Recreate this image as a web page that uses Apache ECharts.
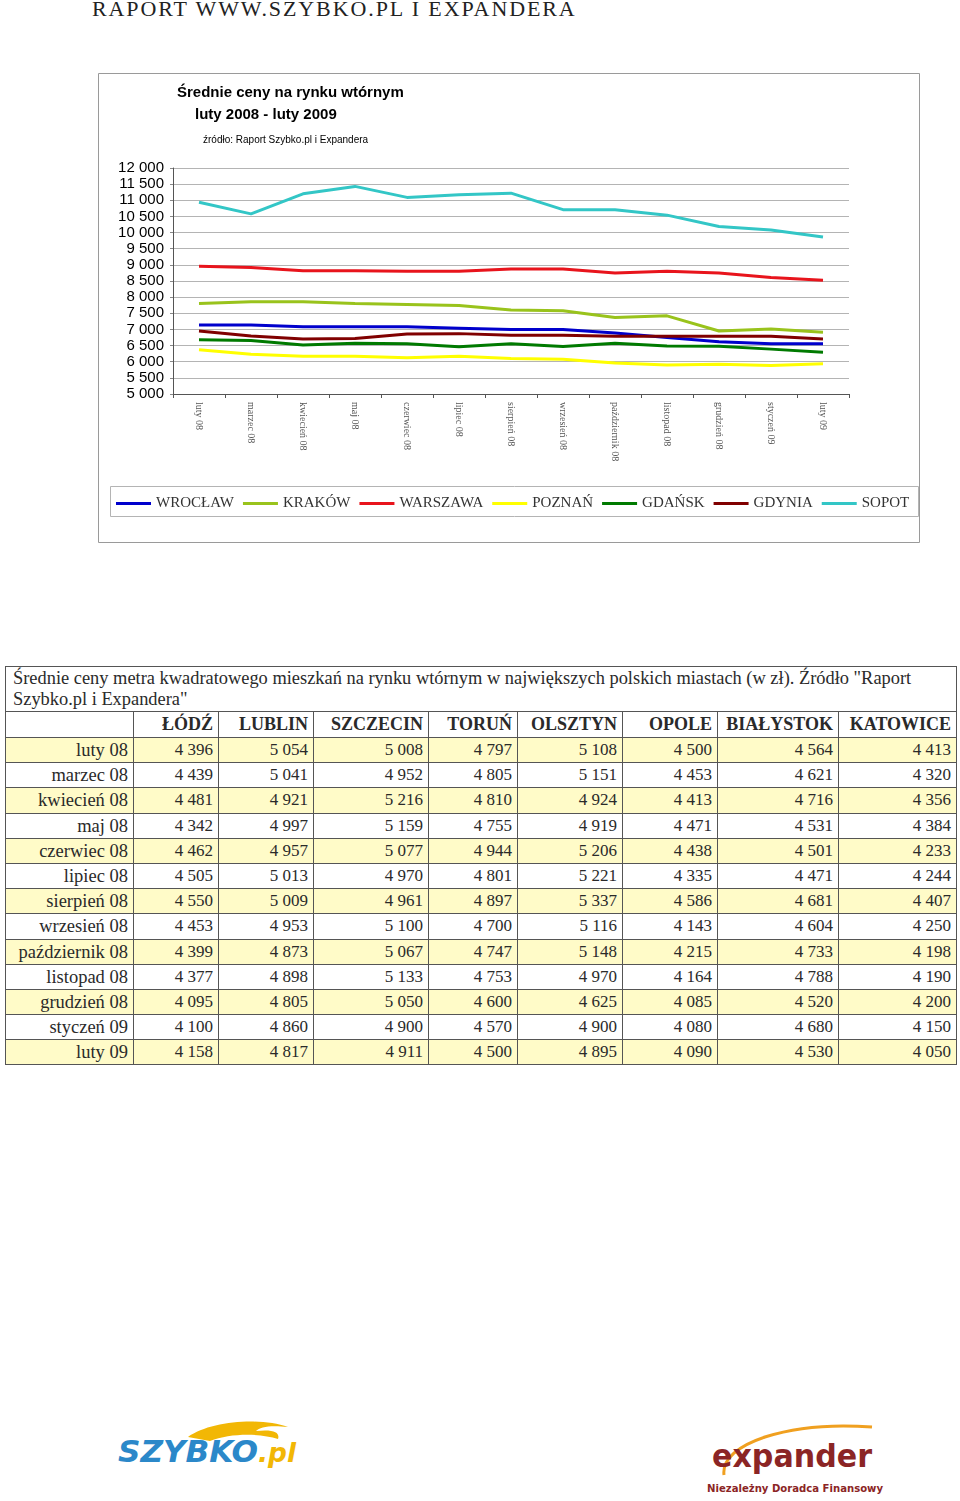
<!DOCTYPE html>
<html>
<head>
<meta charset="utf-8">
<script src="https://cdn.jsdelivr.net/npm/echarts@6/dist/echarts.min.js"></script>
<style>
  body { margin: 0; background: #fff; width: 960px; height: 1501px; position: relative; overflow: hidden; }
  #header { position: absolute; left: 92px; top: -2px; font: 22px/22px 'Liberation Serif', serif; letter-spacing: 1.9px; color: #222; white-space: nowrap; }
  #chart { position: absolute; left: 98px; top: 73px; width: 823px; height: 471px; }
  #tbl { position: absolute; left: 5px; top: 666px; width: 951px; border-collapse: collapse; table-layout: fixed;
         font-family: 'Liberation Serif', serif; font-size: 17px; color: #2a2a2a; }
  #tbl td, #tbl th { border: 1px solid #555; padding: 0 5px 0 0; text-align: right; white-space: nowrap; overflow: hidden; }
  #tbl .cap td { text-align: left; padding: 1px 7px; line-height: 21px; height: 42px; white-space: nowrap; font-size: 18.4px; }
  #tbl .head th { font-size: 18px; height: 25px; }
  #tbl .row td { height: 24.2px; line-height: 24px; }
  #tbl .row td.lbl { font-size: 18.5px; }
  #tbl .row.odd td { background: #fffbc8; }
  .logo { position: absolute; }
</style>
</head>
<body>
<div id="header">RAPORT WWW.SZYBKO.PL I EXPANDERA</div>
<div id="chart"></div>
<table id="tbl"></table>

<svg class="logo" style="left:110px;top:1415px" width="200" height="60">
  <path d="M78 22 C100 6, 150 2, 178 12 C160 10, 150 12, 146 16 C165 14, 170 18, 168 24 C150 18, 120 18, 100 26 Z" fill="#f2b705"/>
  <text x="8" y="47" font-family="DejaVu Sans" font-weight="bold" font-style="italic" font-size="30" fill="#2b88c9" textLength="140" lengthAdjust="spacingAndGlyphs">SZYBKO</text>
  <text x="148" y="47" font-family="DejaVu Sans" font-weight="bold" font-style="italic" font-size="26" fill="#f2b705" textLength="38" lengthAdjust="spacingAndGlyphs">.pl</text>
</svg>

<svg class="logo" style="left:700px;top:1413px" width="190" height="85">
  <path d="M24 62 C20 30, 90 8, 172 14" stroke="#f0a020" stroke-width="3" fill="none"/>
  <text x="12" y="54" font-family="DejaVu Sans" font-weight="bold" font-size="32" fill="#8b2525" textLength="160" lengthAdjust="spacingAndGlyphs">expander</text>
  <text x="7" y="79" font-family="DejaVu Sans" font-weight="bold" font-size="11" fill="#8b2525" textLength="176" lengthAdjust="spacingAndGlyphs">Niezależny Doradca Finansowy</text>
</svg>

<script>
// miesiące (oś X wykresu i wiersze tabeli)
const months = ['luty 08', 'marzec 08', 'kwiecień 08', 'maj 08', 'czerwiec 08', 'lipiec 08', 'sierpień 08',
  'wrzesień 08', 'październik 08', 'listopad 08', 'grudzień 08', 'styczeń 09', 'luty 09']

// wykres - średnie ceny
const chartCities = ['WROCŁAW', 'KRAKÓW', 'WARSZAWA', 'POZNAŃ', 'GDAŃSK', 'GDYNIA', 'SOPOT']
const chartColors = ['#0000cc', '#99c31c', '#e8141c', '#ffff00', '#007a00', '#800000', '#33c6c6']
const wroclaw = [7140, 7140, 7080, 7080, 7080, 7040, 7000, 7000, 6890, 6750, 6620, 6560, 6560]
const krakow = [7800, 7860, 7860, 7800, 7770, 7740, 7600, 7580, 7370, 7420, 6950, 7010, 6910]
const warszawa = [8960, 8920, 8820, 8820, 8800, 8800, 8870, 8870, 8750, 8800, 8750, 8610, 8520]
const poznan = [6370, 6230, 6170, 6170, 6120, 6170, 6100, 6080, 5960, 5900, 5920, 5880, 5940]
const gdansk = [6680, 6660, 6520, 6570, 6560, 6460, 6560, 6470, 6570, 6490, 6480, 6390, 6290]
const gdynia = [6950, 6800, 6700, 6720, 6860, 6870, 6820, 6820, 6790, 6790, 6790, 6790, 6700]
const sopot = [10940, 10580, 11200, 11430, 11090, 11170, 11220, 10710, 10710, 10540, 10190, 10080, 9860]
const chartSeries = [wroclaw, krakow, warszawa, poznan, gdansk, gdynia, sopot]

// tabela
const tableCaption = 'Średnie ceny metra kwadratowego mieszkań na rynku wtórnym w największych polskich miastach (w zł). Źródło "Raport Szybko.pl i Expandera"'
const tableCities = ['ŁÓDŹ', 'LUBLIN', 'SZCZECIN', 'TORUŃ', 'OLSZTYN', 'OPOLE', 'BIAŁYSTOK', 'KATOWICE']
const lodz = [4396, 4439, 4481, 4342, 4462, 4505, 4550, 4453, 4399, 4377, 4095, 4100, 4158]
const lublin = [5054, 5041, 4921, 4997, 4957, 5013, 5009, 4953, 4873, 4898, 4805, 4860, 4817]
const szczecin = [5008, 4952, 5216, 5159, 5077, 4970, 4961, 5100, 5067, 5133, 5050, 4900, 4911]
const torun = [4797, 4805, 4810, 4755, 4944, 4801, 4897, 4700, 4747, 4753, 4600, 4570, 4500]
const olsztyn = [5108, 5151, 4924, 4919, 5206, 5221, 5337, 5116, 5148, 4970, 4625, 4900, 4895]
const opole = [4500, 4453, 4413, 4471, 4438, 4335, 4586, 4143, 4215, 4164, 4085, 4080, 4090]
const bialystok = [4564, 4621, 4716, 4531, 4501, 4471, 4681, 4604, 4733, 4788, 4520, 4680, 4530]
const katowice = [4413, 4320, 4356, 4384, 4233, 4244, 4407, 4250, 4198, 4190, 4200, 4150, 4050]
const tableColumns = [lodz, lublin, szczecin, torun, olsztyn, opole, bialystok, katowice]

const fmt = (v) => String(v).replace(/\B(?=(\d{3})+(?!\d))/g, ' ')

const chart = echarts.init(document.getElementById('chart'))
chart.setOption({
  animation: false,
  backgroundColor: '#fff',
  title: [
    { text: 'Średnie ceny na rynku wtórnym', left: 79, top: 12, padding: 0,
      textStyle: { fontFamily: 'Liberation Sans', fontWeight: 'bold', fontSize: 15, color: '#000' } },
    { text: 'luty 2008 - luty 2009', left: 97, top: 34, padding: 0,
      textStyle: { fontFamily: 'Liberation Sans', fontWeight: 'bold', fontSize: 15, color: '#000' } },
    { text: 'źródło: Raport Szybko.pl i Expandera', left: 105, top: 62, padding: 0,
      textStyle: { fontFamily: 'Liberation Sans', fontWeight: 'normal', fontSize: 10, color: '#000' } }
  ],
  graphic: [
    { type: 'rect', silent: true, z: -1, shape: { x: 0.5, y: 0.5, width: 821, height: 469 },
      style: { fill: 'none', stroke: '#9a9a9a', lineWidth: 1 } },
    { type: 'rect', silent: true, z: -1, shape: { x: 12.5, y: 413.5, width: 808, height: 30 },
      style: { fill: 'none', stroke: '#b4b4b4', lineWidth: 1 } }
  ],
  legend: {
    left: 18, top: 423, padding: 0, width: 805,
    icon: 'rect', itemWidth: 35, itemHeight: 3, itemGap: 9,
    textStyle: { fontFamily: 'Liberation Serif', fontSize: 15, color: '#333' },
    data: chartCities
  },
  grid: { left: 75, right: 72, top: 95, bottom: 150 },
  xAxis: {
    type: 'category',
    data: months,
    boundaryGap: true,
    axisLine: { lineStyle: { color: '#555' } },
    axisTick: { show: true, length: 4, interval: 0, lineStyle: { color: '#555' } },
    axisLabel: { rotate: -90, interval: 0, margin: 8, fontFamily: 'Liberation Serif', fontSize: 10, color: '#555' }
  },
  yAxis: {
    type: 'value',
    min: 5000, max: 12000, interval: 500,
    axisLine: { show: true, lineStyle: { color: '#555' } },
    axisTick: { show: true, length: 3, lineStyle: { color: '#888' } },
    splitLine: { lineStyle: { color: '#b4b4b4' } },
    axisLabel: { margin: 9, fontFamily: 'Liberation Sans', fontSize: 15, color: '#000', formatter: fmt }
  },
  series: chartCities.map((name, i) => ({
    name,
    type: 'line',
    data: chartSeries[i],
    showSymbol: false,
    symbol: 'none',
    lineStyle: { width: 3, color: chartColors[i] },
    itemStyle: { color: chartColors[i] }
  }))
})

// budowa tabeli
const tbl = document.getElementById('tbl')
let html = '<colgroup>' + [128, 85, 95, 115, 89, 105, 95, 121, 118].map(w => `<col style="width:${w}px">`).join('') + '</colgroup>'
html += `<tr class="cap"><td colspan="9">${tableCaption.replace('Raport Szybko', 'Raport<br>Szybko')}</td></tr>`
html += '<tr class="head"><th></th>' + tableCities.map(c => `<th>${c}</th>`).join('') + '</tr>'
months.forEach((m, r) => {
  html += `<tr class="row${r % 2 === 0 ? ' odd' : ''}"><td class="lbl">${m}</td>` +
    tableColumns.map(col => `<td>${fmt(col[r])}</td>`).join('') + '</tr>'
})
tbl.innerHTML = html
</script>
</body>
</html>
